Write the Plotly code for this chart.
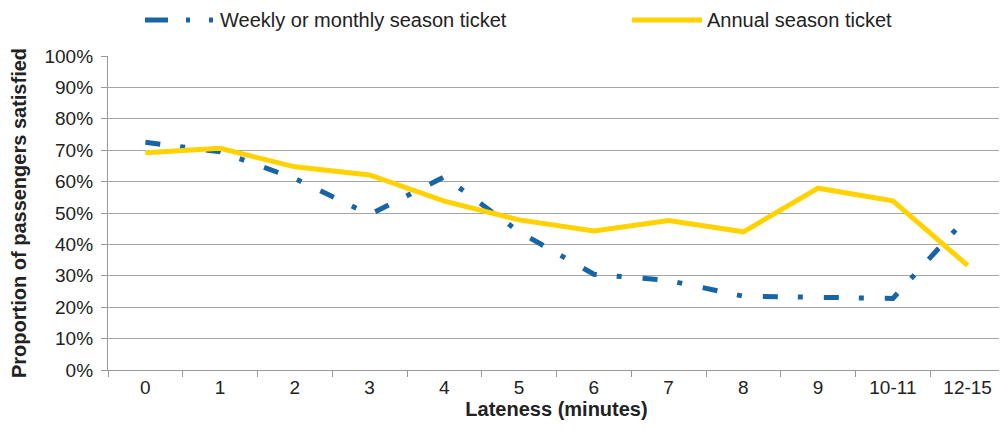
import plotly.graph_objects as go

categories = ["0", "1", "2", "3", "4", "5", "6", "7", "8", "9", "10-11", "12-15"]
weekly_monthly = [0.725, 0.695, 0.61, 0.495, 0.615, 0.44, 0.305, 0.285, 0.235, 0.23, 0.228, 0.488]
annual = [0.692, 0.706, 0.647, 0.621, 0.538, 0.478, 0.443, 0.476, 0.44, 0.579, 0.539, 0.333]
series_names = ["Weekly or monthly season ticket", "Annual season ticket"]
y_ticks = [i / 10 for i in range(11)]

BLUE = "#1764a6"
YELLOW = "#ffd200"
FONT = "Liberation Sans, Arial, sans-serif"

fig = go.Figure()
fig.add_trace(go.Scatter(x=categories, y=weekly_monthly, mode="lines", name=series_names[0],
                         line=dict(color=BLUE, width=5, dash="15px,20px,5px,21px"), showlegend=False))
fig.add_trace(go.Scatter(x=categories, y=annual, mode="lines", name=series_names[1],
                         line=dict(color=YELLOW, width=5), showlegend=False))

# page body has an 8px margin, so the figure is drawn at (8, 8)
OFF = 8
W, H = 999, 422
L, R, T, B = 100, 2, 48, 60
pw = W - L - R
ph = H - T - B

def px_x(p):
    return (p - OFF - L) / pw

def px_y(p):
    return (H - B - (p - OFF)) / ph

shapes = []
ly = px_y(20)
shapes.append(dict(type="line", xref="paper", yref="paper", x0=px_x(145), x1=px_x(168), y0=ly, y1=ly,
                   line=dict(color=BLUE, width=5)))
for dx in (188, 211):
    shapes.append(dict(type="line", xref="paper", yref="paper", x0=px_x(dx - 2), x1=px_x(dx + 2), y0=ly, y1=ly,
                       line=dict(color=BLUE, width=5)))
shapes.append(dict(type="line", xref="paper", yref="paper", x0=px_x(632), x1=px_x(702), y0=ly, y1=ly,
                   line=dict(color=YELLOW, width=5)))

annotations = [
    dict(text=series_names[0], xref="paper", yref="paper", x=px_x(218), y=ly, xanchor="left", yanchor="middle",
         showarrow=False, font=dict(family=FONT, size=20, color="#222")),
    dict(text=series_names[1], xref="paper", yref="paper", x=px_x(705), y=ly, xanchor="left", yanchor="middle",
         showarrow=False, font=dict(family=FONT, size=20, color="#222")),
]

fig.update_layout(
    width=W, height=H,
    margin=dict(l=L, r=R, t=T, b=B),
    plot_bgcolor="white", paper_bgcolor="white",
    font=dict(family=FONT, size=19, color="#222"),
    shapes=shapes, annotations=annotations,
    xaxis=dict(type="category", tickson="boundaries", ticks="outside", ticklen=6, tickcolor="#999",
               showline=True, linecolor="#999", linewidth=1.3, showgrid=False, automargin=False,
               title=dict(text="<b>Lateness (minutes)</b>", font=dict(size=20), standoff=5),
               tickfont=dict(size=19), range=[-0.5, 11.5]),
    yaxis=dict(range=[0, 1], tickvals=y_ticks, tickformat=".0%", ticks="outside", ticklen=6, tickcolor="#999",
               showline=True, linecolor="#999", linewidth=1.3, showgrid=True, gridcolor="#a6a6a6", gridwidth=1.4,
               zeroline=False, automargin=False, ticklabelstandoff=4,
               title=dict(text="<b>Proportion of passengers satisfied</b>", font=dict(size=20), standoff=14),
               tickfont=dict(size=19)),
    showlegend=False,
)

fig.write_html("out.html")
